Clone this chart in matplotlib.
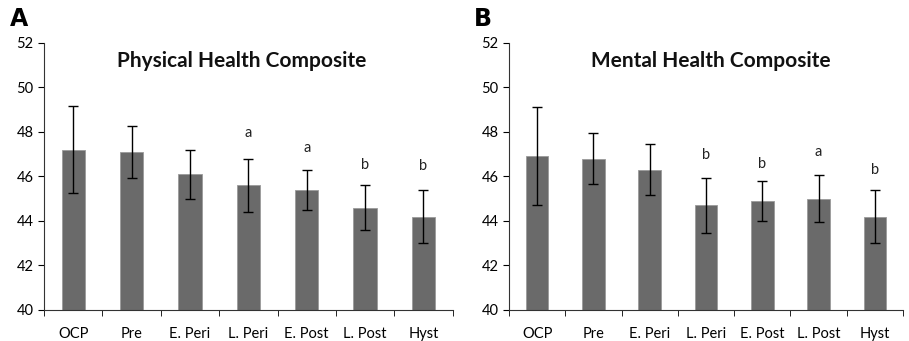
import matplotlib.pyplot as plt
import numpy as np

plt.rcParams['font.family'] = ['Lato', 'DejaVu Sans']

categories = ["OCP", "Pre", "E. Peri", "L. Peri", "E. Post", "L. Post", "Hyst"]

# Panel A: physical health composite
phys_mean = [47.2, 47.1, 46.1, 45.6, 45.4, 44.6, 44.2]
phys_err = [1.95, 1.15, 1.1, 1.2, 0.9, 1.0, 1.2]
phys_letters = ["", "", "", "a", "a", "b", "b"]
phys_letter_y = [None, None, None, 47.95, 47.3, 46.5, 46.45]

# Panel B: mental health composite
ment_mean = [46.9, 46.8, 46.3, 44.7, 44.9, 45.0, 44.2]
ment_err = [2.2, 1.15, 1.15, 1.25, 0.9, 1.05, 1.2]
ment_letters = ["", "", "", "b", "b", "a", "b"]
ment_letter_y = [None, None, None, 46.95, 46.55, 47.1, 46.3]

bar_color = "#6a6a6a"


def panel(ax, means, errs, letters, letter_y, title, title_x, tag, tag_x):
    x = np.arange(len(categories))
    ax.bar(x, means, width=0.4, color=bar_color, edgecolor="#9a9a9a",
           linewidth=0.6, zorder=2)
    ax.errorbar(x, means, yerr=errs, fmt="none", ecolor="black",
                elinewidth=1, capsize=3.5, capthick=1, zorder=3)
    for xi, lab, ly in zip(x, letters, letter_y):
        if lab:
            ax.text(xi, ly, lab, ha="center", va="center", fontsize=10.5,
                    color="#222222")

    ax.set_xlim(-0.5, len(categories) - 0.5)
    ax.set_ylim(40, 52)
    ax.set_yticks(np.arange(40, 53, 2))
    ax.set_xticks(x)
    ax.set_xticklabels(categories)
    ax.set_xticks(np.arange(-0.5, len(categories)), minor=True)
    ax.tick_params(axis="x", which="major", length=0, pad=12, labelsize=10.5)
    ax.tick_params(axis="x", which="minor", length=4, direction="out")
    ax.tick_params(axis="y", length=4, direction="out", labelsize=10.5)
    for s in ["top", "right"]:
        ax.spines[s].set_visible(False)
    ax.spines["left"].set_color("#333333")
    ax.spines["bottom"].set_color("#333333")

    ax.text(title_x, 0.933, title, transform=ax.transAxes, ha="center",
            va="center", fontsize=15, fontweight="bold", color="#111111")
    ax.figure.text(tag_x, 0.945, tag, fontsize=17, fontweight="bold",
                   ha="left", va="center", family="DejaVu Sans")


fig = plt.figure(figsize=(9.09, 3.41), dpi=100)
ax1 = fig.add_axes([0.0484, 0.091, 0.4496, 0.783])
ax2 = fig.add_axes([0.560, 0.091, 0.4334, 0.783])

panel(ax1, phys_mean, phys_err, phys_letters, phys_letter_y,
      "Physical Health Composite", 0.484, "A", 0.011)
panel(ax2, ment_mean, ment_err, ment_letters, ment_letter_y,
      "Mental Health Composite", 0.513, "B", 0.521)

fig.savefig("out.png", dpi=100)
